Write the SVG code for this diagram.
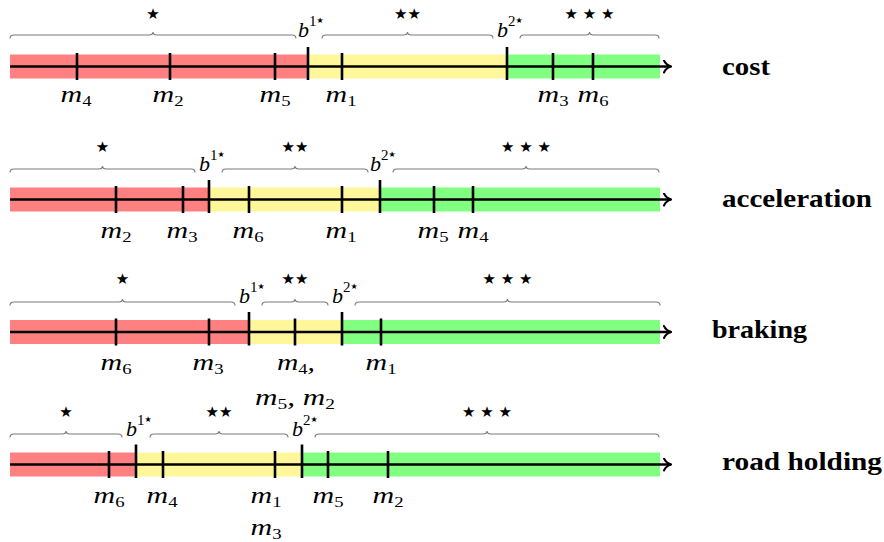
<svg xmlns="http://www.w3.org/2000/svg" width="884" height="542" viewBox="0 0 884 542">
<style>
.r{fill:#FF8080}.y{fill:#FFF799}.g{fill:#80FF80}
.axis{stroke:#000;stroke-width:2.4;fill:none}
.tick{stroke:#000;stroke-width:2.6}
.brace{stroke:#7a7a7a;stroke-width:1.1;fill:none}
.m{font-family:'Liberation Serif','DejaVu Serif',serif;font-style:italic;font-size:24px;text-anchor:middle}
.sub{font-size:15px;font-style:normal}
.b{font-family:'Liberation Serif','DejaVu Serif',serif;font-style:italic;font-size:22px}
.sup{font-size:15px;font-style:normal}
.ss{font-family:'DejaVu Sans',sans-serif;font-size:8px;font-style:normal}
.star{font-family:'DejaVu Sans',sans-serif;font-size:15px;text-anchor:middle}
.crit{font-family:'Liberation Serif','DejaVu Serif',serif;font-weight:bold;font-size:25px}
</style>
<defs>
<marker id="arr" viewBox="0 0 10 14" refX="9" refY="7" markerWidth="10" markerHeight="14" markerUnits="userSpaceOnUse" orient="auto">
<path d="M2,1 Q4,5.5 9,7 Q4,8.5 2,13" fill="none" stroke="#000" stroke-width="2" stroke-linecap="round"/>
</marker>
</defs>
<g id="bands">
<rect class="r" x="10" y="54.5" width="298" height="24"/>
<rect class="y" x="308" y="54.5" width="199" height="24"/>
<rect class="g" x="507" y="54.5" width="153" height="24"/>
<rect class="r" x="10" y="187.5" width="199" height="24"/>
<rect class="y" x="209" y="187.5" width="171" height="24"/>
<rect class="g" x="380" y="187.5" width="280" height="24"/>
<rect class="r" x="10" y="320" width="239" height="24"/>
<rect class="y" x="249" y="320" width="93" height="24"/>
<rect class="g" x="342" y="320" width="318" height="24"/>
<rect class="r" x="10" y="452.5" width="126" height="24"/>
<rect class="y" x="136" y="452.5" width="166" height="24"/>
<rect class="g" x="302" y="452.5" width="358" height="24"/>
</g>
<g id="connectors">
<line class="axis" x1="10" y1="66.5" x2="671" y2="66.5" marker-end="url(#arr)"/>
<line class="axis" x1="10" y1="199.5" x2="671" y2="199.5" marker-end="url(#arr)"/>
<line class="axis" x1="10" y1="332" x2="671" y2="332" marker-end="url(#arr)"/>
<line class="axis" x1="10" y1="464.5" x2="671" y2="464.5" marker-end="url(#arr)"/>
</g>
<g id="row-cost">
<path class="tick" d="M77,53V80M170,53V80M275,53V80M342,53V80M553,53V80M593,53V80M308,47V80M507,47V80"/>
<path class="brace" d="M10,38.5 Q10,35 14,35 H149 Q153,35 153,32 Q153,35 157,35 H292 Q296,35 296,38.5"/>
<path class="brace" d="M322,38.5 Q322,35 326,35 H403.5 Q407.5,35 407.5,32 Q407.5,35 411.5,35 H489 Q493,35 493,38.5"/>
<path class="brace" d="M520,38.5 Q520,35 524,35 H585.5 Q589.5,35 589.5,32 Q589.5,35 593.5,35 H655 Q659,35 659,38.5"/>
<text class="star" x="153" y="19">★</text>
<text class="star" x="407.5" y="19">★★</text>
<text class="star" x="589.5" y="19">★ ★ ★</text>
<text class="b" x="298" y="37">b<tspan class="sup" dy="-11">1</tspan><tspan class="ss" dy="-3">★</tspan></text>
<text class="b" x="497" y="37">b<tspan class="sup" dy="-11">2</tspan><tspan class="ss" dy="-3">★</tspan></text>
<text class="m" x="76" y="102" textLength="31" lengthAdjust="spacingAndGlyphs">m<tspan class="sub" dy="4">4</tspan></text>
<text class="m" x="168" y="102" textLength="31" lengthAdjust="spacingAndGlyphs">m<tspan class="sub" dy="4">2</tspan></text>
<text class="m" x="275" y="102" textLength="31" lengthAdjust="spacingAndGlyphs">m<tspan class="sub" dy="4">5</tspan></text>
<text class="m" x="341" y="102" textLength="31" lengthAdjust="spacingAndGlyphs">m<tspan class="sub" dy="4">1</tspan></text>
<text class="m" x="553" y="102" textLength="31" lengthAdjust="spacingAndGlyphs">m<tspan class="sub" dy="4">3</tspan></text>
<text class="m" x="593" y="102" textLength="31" lengthAdjust="spacingAndGlyphs">m<tspan class="sub" dy="4">6</tspan></text>
<text class="crit" x="722" y="75" textLength="48" lengthAdjust="spacingAndGlyphs">cost</text>
</g>
<g id="row-acceleration">
<path class="tick" d="M116,186V213M183,186V213M249,186V213M342,186V213M434,186V213M473,186V213M209,180V213M380,180V213"/>
<path class="brace" d="M10,172.5 Q10,169 14,169 H98.5 Q102.5,169 102.5,166 Q102.5,169 106.5,169 H191 Q195,169 195,172.5"/>
<path class="brace" d="M222,172.5 Q222,169 226,169 H291 Q295,169 295,166 Q295,169 299,169 H364 Q368,169 368,172.5"/>
<path class="brace" d="M393,172.5 Q393,169 397,169 H522 Q526,169 526,166 Q526,169 530,169 H655 Q659,169 659,172.5"/>
<text class="star" x="102.5" y="152">★</text>
<text class="star" x="295" y="152">★★</text>
<text class="star" x="526" y="152">★ ★ ★</text>
<text class="b" x="199" y="171">b<tspan class="sup" dy="-11">1</tspan><tspan class="ss" dy="-3">★</tspan></text>
<text class="b" x="370" y="171">b<tspan class="sup" dy="-11">2</tspan><tspan class="ss" dy="-3">★</tspan></text>
<text class="m" x="116" y="238" textLength="31" lengthAdjust="spacingAndGlyphs">m<tspan class="sub" dy="4">2</tspan></text>
<text class="m" x="182" y="238" textLength="31" lengthAdjust="spacingAndGlyphs">m<tspan class="sub" dy="4">3</tspan></text>
<text class="m" x="248" y="238" textLength="31" lengthAdjust="spacingAndGlyphs">m<tspan class="sub" dy="4">6</tspan></text>
<text class="m" x="341" y="238" textLength="31" lengthAdjust="spacingAndGlyphs">m<tspan class="sub" dy="4">1</tspan></text>
<text class="m" x="433" y="238" textLength="31" lengthAdjust="spacingAndGlyphs">m<tspan class="sub" dy="4">5</tspan></text>
<text class="m" x="473" y="238" textLength="31" lengthAdjust="spacingAndGlyphs">m<tspan class="sub" dy="4">4</tspan></text>
<text class="crit" x="722" y="207" textLength="150" lengthAdjust="spacingAndGlyphs">acceleration</text>
</g>
<g id="row-braking">
<path class="tick" d="M116,318.5V345.5M209,318.5V345.5M295,318.5V345.5M381,318.5V345.5M249,312V345.5M342,312V345.5"/>
<path class="brace" d="M10,305.5 Q10,302 14,302 H118.5 Q122.5,302 122.5,299 Q122.5,302 126.5,302 H231 Q235,302 235,305.5"/>
<path class="brace" d="M262,305.5 Q262,302 266,302 H291 Q295,302 295,299 Q295,302 299,302 H324 Q328,302 328,305.5"/>
<path class="brace" d="M355,305.5 Q355,302 359,302 H503.5 Q507.5,302 507.5,299 Q507.5,302 511.5,302 H656 Q660,302 660,305.5"/>
<text class="star" x="122.5" y="284">★</text>
<text class="star" x="295" y="284">★★</text>
<text class="star" x="507.5" y="284">★ ★ ★</text>
<text class="b" x="239" y="303">b<tspan class="sup" dy="-11">1</tspan><tspan class="ss" dy="-3">★</tspan></text>
<text class="b" x="332" y="303">b<tspan class="sup" dy="-11">2</tspan><tspan class="ss" dy="-3">★</tspan></text>
<text class="m" x="116" y="370" textLength="31" lengthAdjust="spacingAndGlyphs">m<tspan class="sub" dy="4">6</tspan></text>
<text class="m" x="208" y="370" textLength="31" lengthAdjust="spacingAndGlyphs">m<tspan class="sub" dy="4">3</tspan></text>
<text class="m" x="296" y="370" textLength="38" lengthAdjust="spacingAndGlyphs">m<tspan class="sub" dy="4">4</tspan><tspan dy="-4">,</tspan></text>
<text class="m" x="295" y="405" textLength="80" lengthAdjust="spacingAndGlyphs">m<tspan class="sub" dy="4">5</tspan><tspan dy="-4">, m</tspan><tspan class="sub" dy="4">2</tspan></text>
<text class="m" x="381" y="370" textLength="31" lengthAdjust="spacingAndGlyphs">m<tspan class="sub" dy="4">1</tspan></text>
<text class="crit" x="712" y="338" textLength="95" lengthAdjust="spacingAndGlyphs">braking</text>
</g>
<g id="row-road-holding">
<path class="tick" d="M109,451V478M163,451V478M275,451V478M328,451V478M388,451V478M136,444.5V478M302,444.5V478"/>
<path class="brace" d="M10,437.5 Q10,434 14,434 H62 Q66,434 66,431 Q66,434 70,434 H118 Q122,434 122,437.5"/>
<path class="brace" d="M150,437.5 Q150,434 154,434 H215 Q219,434 219,431 Q219,434 223,434 H284 Q288,434 288,437.5"/>
<path class="brace" d="M315,437.5 Q315,434 319,434 H483 Q487,434 487,431 Q487,434 491,434 H655 Q659,434 659,437.5"/>
<text class="star" x="66" y="417">★</text>
<text class="star" x="219" y="417">★★</text>
<text class="star" x="487" y="417">★ ★ ★</text>
<text class="b" x="126" y="436">b<tspan class="sup" dy="-11">1</tspan><tspan class="ss" dy="-3">★</tspan></text>
<text class="b" x="292" y="436">b<tspan class="sup" dy="-11">2</tspan><tspan class="ss" dy="-3">★</tspan></text>
<text class="m" x="109" y="503" textLength="31" lengthAdjust="spacingAndGlyphs">m<tspan class="sub" dy="4">6</tspan></text>
<text class="m" x="162" y="503" textLength="31" lengthAdjust="spacingAndGlyphs">m<tspan class="sub" dy="4">4</tspan></text>
<text class="m" x="266" y="503" textLength="31" lengthAdjust="spacingAndGlyphs">m<tspan class="sub" dy="4">1</tspan></text>
<text class="m" x="266" y="535" textLength="31" lengthAdjust="spacingAndGlyphs">m<tspan class="sub" dy="4">3</tspan></text>
<text class="m" x="328" y="503" textLength="31" lengthAdjust="spacingAndGlyphs">m<tspan class="sub" dy="4">5</tspan></text>
<text class="m" x="388" y="503" textLength="31" lengthAdjust="spacingAndGlyphs">m<tspan class="sub" dy="4">2</tspan></text>
<text class="crit" x="722" y="470" textLength="160" lengthAdjust="spacingAndGlyphs">road holding</text>
</g>
</svg>
